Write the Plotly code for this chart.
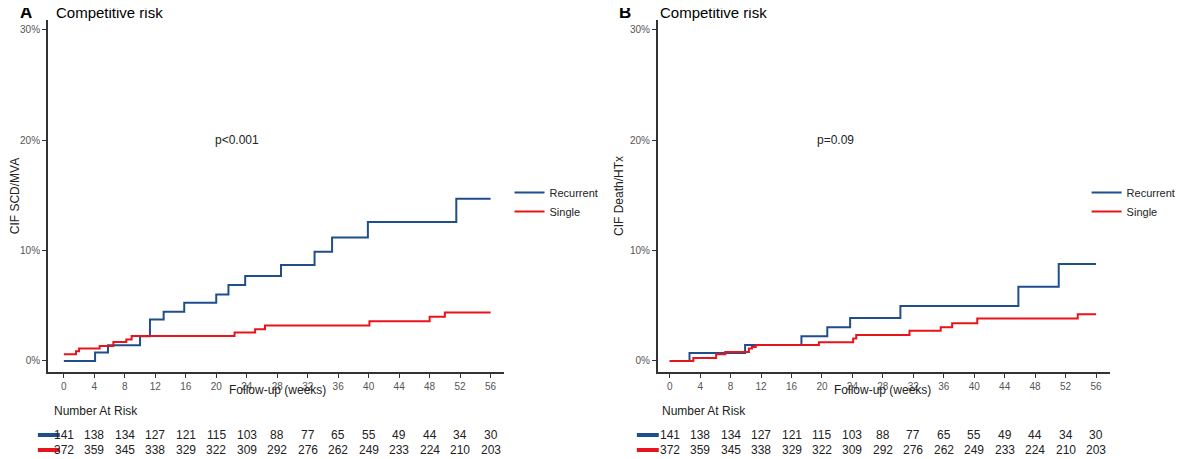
import plotly.graph_objects as go

# Panel A (SCD/MVA), step curves: time in weeks, CIF in %
a_rec_t = [0, 4.1, 5.8, 10.0, 11.3, 13.1, 15.8, 20.0, 21.6, 23.8, 28.5, 32.9, 35.2, 39.9, 51.5, 56]
a_rec_y = [0, 0.76, 1.42, 2.24, 3.76, 4.45, 5.27, 6.03, 6.88, 7.7, 8.7, 9.9, 11.2, 12.6, 14.7, 14.7]
a_sgl_t = [0, 1.6, 2.0, 4.7, 6.5, 8.2, 8.9, 22.4, 25.1, 26.4, 40.1, 48.0, 50.0, 56]
a_sgl_y = [0.6, 0.88, 1.12, 1.36, 1.73, 1.94, 2.27, 2.58, 2.88, 3.21, 3.6, 4.0, 4.39, 4.39]
# Panel B (Death/HTx)
b_rec_t = [0, 2.6, 9.9, 17.3, 20.7, 23.7, 30.3, 45.8, 51.1, 56]
b_rec_y = [0, 0.73, 1.45, 2.24, 3.06, 3.9, 4.97, 6.73, 8.79, 8.79]
b_sgl_t = [0, 3.1, 6.1, 7.3, 10.4, 10.8, 11.3, 19.6, 24.1, 24.5, 31.5, 35.6, 37.1, 40.4, 53.6, 56]
b_sgl_y = [0, 0.27, 0.6, 0.82, 1.12, 1.27, 1.45, 1.7, 2.03, 2.36, 2.73, 3.06, 3.42, 3.85, 4.24, 4.24]

risk_weeks = list(range(0, 57, 4))
risk_rec = [141, 138, 134, 127, 121, 115, 103, 88, 77, 65, 55, 49, 44, 34, 30]
risk_sgl = [372, 359, 345, 338, 329, 322, 309, 292, 276, 262, 249, 233, 224, 210, 203]
y_ticks = [0, 10, 20, 30]
y_labels = ["0%", "10%", "20%", "30%"]

BLUE = "#1f4e8c"
RED = "#e8141c"
W, H = 1200, 459
OFF = 8  # page body margin


def px(p):
    return (p - OFF) / W


def py(p):
    return 1 - (p - OFF) / H


fig = go.Figure()
panels = [
    ("x", "y", "legend", a_rec_t, a_rec_y, a_sgl_t, a_sgl_y),
    ("x2", "y2", "legend2", b_rec_t, b_rec_y, b_sgl_t, b_sgl_y),
]
for xa, ya, lg, rt, ry, st, sy in panels:
    fig.add_trace(go.Scatter(x=rt, y=ry, mode="lines", line=dict(color=BLUE, width=2, shape="hv"),
                             name="Recurrent", xaxis=xa, yaxis=ya, legend=lg))
    fig.add_trace(go.Scatter(x=st, y=sy, mode="lines", line=dict(color=RED, width=2, shape="hv"),
                             name="Single", xaxis=xa, yaxis=ya, legend=lg))

ydom = [py(372), py(20)]
axis_common = dict(showgrid=False, zeroline=False, showline=True, linecolor="#333", linewidth=1.5,
                   ticks="outside", ticklen=4, tickcolor="#333", tickfont=dict(size=10, color="#555"))
fig.update_layout(
    xaxis=dict(domain=[px(42), px(500)], range=[-2.1, 57.7], tickvals=risk_weeks, anchor="y", **axis_common),
    yaxis=dict(domain=ydom, range=[-1.0, 30.9], tickvals=y_ticks, ticktext=y_labels,
               title=dict(text="CIF SCD/MVA", font=dict(size=12), standoff=4), anchor="x", **axis_common),
    xaxis2=dict(domain=[px(655), px(1110)], range=[-1.57, 57.9], tickvals=risk_weeks, anchor="y2", **axis_common),
    yaxis2=dict(domain=ydom, range=[-1.0, 30.9], tickvals=y_ticks, ticktext=y_labels,
                title=dict(text="CIF Death/HTx", font=dict(size=12), standoff=4), anchor="x2", **axis_common),
    legend=dict(x=px(506), y=py(178), xanchor="left", yanchor="top", font=dict(size=11),
                bgcolor="rgba(0,0,0,0)", itemwidth=30),
    legend2=dict(x=px(1086), y=py(178), xanchor="left", yanchor="top", font=dict(size=11),
                 bgcolor="rgba(0,0,0,0)", itemwidth=30),
    width=W, height=H, margin=dict(l=0, r=0, t=0, b=0),
    plot_bgcolor="white", paper_bgcolor="white",
    font=dict(family="Liberation Sans, Arial, sans-serif", color="#222"),
)

ann = []
for xa, ya, label, lx, tx, ptxt, pxv in [("x", "y", "A", 12, 48, "p<0.001", 22.7),
                                          ("x2", "y2", "B", 622, 655, "p=0.09", 21.8)]:
    ann.append(dict(x=px(lx), y=py(12), xref="paper", yref="paper", text="<b>%s</b>" % label,
                    showarrow=False, yanchor="middle", font=dict(size=17, color="black")))
    ann.append(dict(x=px(tx), y=py(12), xref="paper", yref="paper", text="Competitive risk",
                    showarrow=False, xanchor="left", yanchor="middle", font=dict(size=15, color="black")))
    ann.append(dict(x=pxv, y=20, xref=xa, yref=ya, text=ptxt, showarrow=False, font=dict(size=12)))
    ann.append(dict(x=28, y=py(390), xref=xa, yref="paper", text="Follow-up (weeks)", showarrow=False,
                    yanchor="middle", font=dict(size=12)))
    ann.append(dict(x=px(tx - 2 if xa == "x" else tx + 2), y=py(411), xref="paper", yref="paper",
                    text="Number At Risk", showarrow=False, xanchor="left", yanchor="middle", font=dict(size=12)))
    for wk, r, s in zip(risk_weeks, risk_rec, risk_sgl):
        ann.append(dict(x=wk, y=py(435), xref=xa, yref="paper", text=str(r), showarrow=False,
                        yanchor="middle", font=dict(size=12)))
        ann.append(dict(x=wk, y=py(450), xref=xa, yref="paper", text=str(s), showarrow=False,
                        yanchor="middle", font=dict(size=12)))
fig.update_layout(annotations=ann)

shapes = []
for x0 in (32, 634):
    for yy, c in ((435, BLUE), (450, RED)):
        shapes.append(dict(type="line", xref="paper", yref="paper", x0=px(x0), x1=px(x0 + 22),
                           y0=py(yy), y1=py(yy), line=dict(color=c, width=4)))
fig.update_layout(shapes=shapes)

fig.write_html("out.html")
